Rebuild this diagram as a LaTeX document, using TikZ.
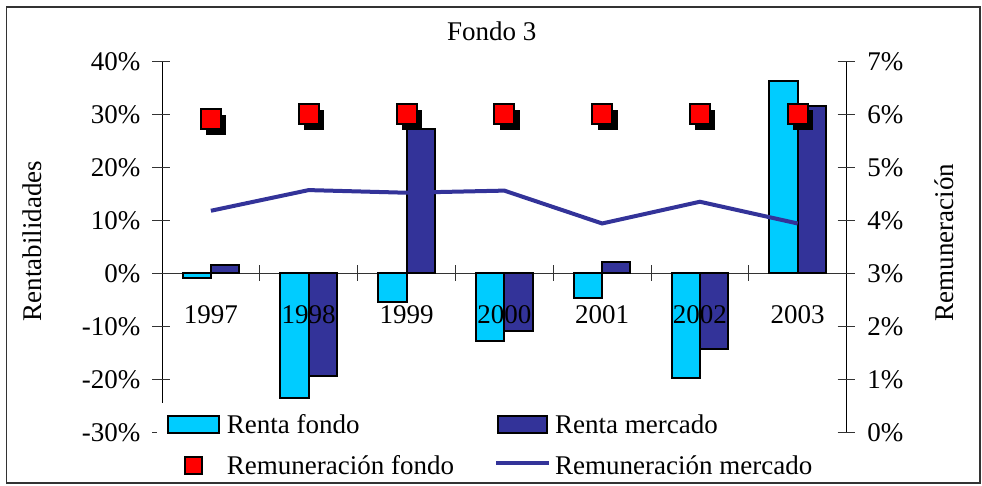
\documentclass[tikz,border=0pt]{standalone}
\usepackage{fontspec}
\setmainfont{Liberation Serif}
\usetikzlibrary{shadows}

\definecolor{fondo}{HTML}{00CCFF}
\definecolor{mercado}{HTML}{333399}
\definecolor{rojo}{HTML}{FF0000}

\begin{document}
\begin{tikzpicture}[x=1pt, y=1pt, font=\fontsize{27}{30}\selectfont,
  renta fondo/.style={draw=black, line width=2pt, fill=fondo},
  renta mercado/.style={draw=black, line width=2pt, fill=mercado},
  remun fondo/.style={rectangle, draw=black, line width=2pt, fill=rojo, inner sep=0pt, minimum size=20pt},
  remun mercado/.style={draw=mercado, line width=4pt},
  sombra/.style={drop shadow={shadow xshift=5.5pt, shadow yshift=-5.5pt, opacity=1, fill=black}},
  eje/.style={black, line width=1pt},
  marca/.style={black!80, line width=1pt},
  lab izq/.style={anchor=east, inner sep=0pt, xshift=-21.5pt},
  lab der/.style={anchor=west, inner sep=0pt, xshift=20.5pt},
  texto/.style={anchor=base west, inner sep=0pt}]

\useasboundingbox (0,0) rectangle (982,485);

% Marco
\draw[black!80, line width=1.5pt] (6.5,2) rectangle (980,478);

% Titulos
\node[anchor=base] (titulo) at (491.7,444.5) {Fondo 3};
\node[rotate=90] (ejeizq) at (32.6,244) {Rentabilidades};
\node[rotate=90] (ejeder) at (944,242.5) {Remuneración};

\begin{scope}[shift={(162,211.7)}, x=97.8pt, y=5.3pt]

% Ejes
\draw[eje] (0,40) -- (0,-30);
\draw[eje] (7,40) -- (7,-30);
\draw[marca] (0,0) -- (7,0);

% Marcas eje izquierdo
\draw[marca] (0,40) ++(-10pt,0) -- ++(18pt,0);
\draw[marca] (0,30) ++(-10pt,0) -- ++(18pt,0);
\draw[marca] (0,20) ++(-10pt,0) -- ++(18pt,0);
\draw[marca] (0,10) ++(-10pt,0) -- ++(18pt,0);
\draw[marca] (0,0) ++(-10pt,0) -- ++(18pt,0);
\draw[marca] (0,-10) ++(-10pt,0) -- ++(18pt,0);
\draw[marca] (0,-20) ++(-10pt,0) -- ++(18pt,0);
\draw[marca] (0,-30) ++(-10pt,0) -- ++(18pt,0);

% Marcas eje derecho
\draw[marca] (7,40) ++(-9pt,0) -- ++(17pt,0);
\draw[marca] (7,30) ++(-9pt,0) -- ++(17pt,0);
\draw[marca] (7,20) ++(-9pt,0) -- ++(17pt,0);
\draw[marca] (7,10) ++(-9pt,0) -- ++(17pt,0);
\draw[marca] (7,0) ++(-9pt,0) -- ++(17pt,0);
\draw[marca] (7,-10) ++(-9pt,0) -- ++(17pt,0);
\draw[marca] (7,-20) ++(-9pt,0) -- ++(17pt,0);
\draw[marca] (7,-30) ++(-9pt,0) -- ++(17pt,0);

% Marcas de categorias
\draw[marca] (1,0) ++(0,8pt) -- ++(0,-16pt);
\draw[marca] (2,0) ++(0,8pt) -- ++(0,-16pt);
\draw[marca] (3,0) ++(0,8pt) -- ++(0,-16pt);
\draw[marca] (4,0) ++(0,8pt) -- ++(0,-16pt);
\draw[marca] (5,0) ++(0,8pt) -- ++(0,-16pt);
\draw[marca] (6,0) ++(0,8pt) -- ++(0,-16pt);

% Etiquetas eje izquierdo
\node[lab izq] (i40) at (0,40) {40\%};
\node[lab izq] (i30) at (0,30) {30\%};
\node[lab izq] (i20) at (0,20) {20\%};
\node[lab izq] (i10) at (0,10) {10\%};
\node[lab izq] (i0) at (0,0) {0\%};
\node[lab izq] (im10) at (0,-10) {-10\%};
\node[lab izq] (im20) at (0,-20) {-20\%};
\node[lab izq] (im30) at (0,-30) {-30\%};

% Etiquetas eje derecho
\node[lab der] (d7) at (7,40) {7\%};
\node[lab der] (d6) at (7,30) {6\%};
\node[lab der] (d5) at (7,20) {5\%};
\node[lab der] (d4) at (7,10) {4\%};
\node[lab der] (d3) at (7,0) {3\%};
\node[lab der] (d2) at (7,-10) {2\%};
\node[lab der] (d1) at (7,-20) {1\%};
\node[lab der] (d0) at (7,-30) {0\%};

% Barras renta fondo
\draw[renta fondo] (0.211,0) rectangle (0.5,-0.9);
\draw[renta fondo] (1.211,0) rectangle (1.5,-23.6);
\draw[renta fondo] (2.211,0) rectangle (2.5,-5.5);
\draw[renta fondo] (3.211,0) rectangle (3.5,-12.7);
\draw[renta fondo] (4.211,0) rectangle (4.5,-4.7);
\draw[renta fondo] (5.211,0) rectangle (5.5,-19.8);
\draw[renta fondo] (6.211,0) rectangle (6.5,36.2);

% Barras renta mercado
\draw[renta mercado] (0.5,0) rectangle (0.789,1.5);
\draw[renta mercado] (1.5,0) rectangle (1.789,-19.3);
\draw[renta mercado] (2.5,0) rectangle (2.789,27.2);
\draw[renta mercado] (3.5,0) rectangle (3.789,-10.8);
\draw[renta mercado] (4.5,0) rectangle (4.789,2.2);
\draw[renta mercado] (5.5,0) rectangle (5.789,-14.2);
\draw[renta mercado] (6.5,0) rectangle (6.789,31.6);

% Años
\node[anchor=base] (a1997) at (0.5,-9.47) {1997};
\node[anchor=base] (a1998) at (1.5,-9.47) {1998};
\node[anchor=base] (a1999) at (2.5,-9.47) {1999};
\node[anchor=base] (a2000) at (3.5,-9.47) {2000};
\node[anchor=base] (a2001) at (4.5,-9.47) {2001};
\node[anchor=base] (a2002) at (5.5,-9.47) {2002};
\node[anchor=base] (a2003) at (6.5,-9.47) {2003};

% Remuneración mercado (escala derecha: 3% en 0)
\draw[remun mercado] (0.5,11.8) -- (1.5,15.7) -- (2.5,15.2) -- (3.5,15.6)
  -- (4.5,9.4) -- (5.5,13.5) -- (6.5,9.4);

% Remuneración fondo
\node[remun fondo, sombra] (r1997) at (0.5,29.1) {};
\node[remun fondo, sombra] (r1998) at (1.5,30) {};
\node[remun fondo, sombra] (r1999) at (2.5,30) {};
\node[remun fondo, sombra] (r2000) at (3.5,30) {};
\node[remun fondo, sombra] (r2001) at (4.5,30) {};
\node[remun fondo, sombra] (r2002) at (5.5,30) {};
\node[remun fondo, sombra] (r2003) at (6.5,30) {};

\end{scope}

% Leyenda
\fill[white] (157,5) rectangle (836,82);
\node[renta fondo, minimum width=50.7pt, minimum height=17.3pt, inner sep=0pt] (lfondo) at (193.7,60.4) {};
\node[texto] (tfondo) at (226.7,51.7) {Renta fondo};
\node[renta mercado, minimum width=49pt, minimum height=17.3pt, inner sep=0pt] (lmercado) at (522.2,60.4) {};
\node[texto] (tmercado) at (555,51.7) {Renta mercado};
\node[remun fondo, minimum size=17pt] (lremf) at (193.5,19.5) {};
\node[texto] (tremf) at (226.7,11) {Remuneración fondo};
\coordinate (lremm1) at (496,21.7);
\coordinate (lremm2) at (549.3,21.7);
\draw[remun mercado] (lremm1) -- (lremm2);
\node[texto] (tremm) at (555,11) {Remuneración mercado};

\end{tikzpicture}
\end{document}
